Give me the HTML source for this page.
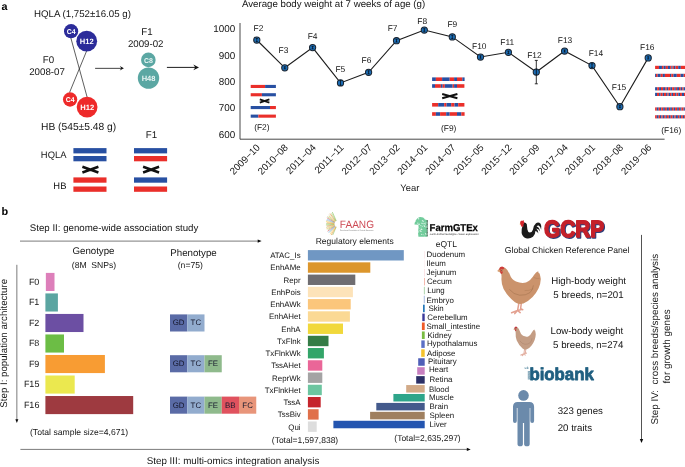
<!DOCTYPE html>
<html lang="en">
<head>
<meta charset="utf-8">
<title>Figure 1</title>
<style>
html,body{margin:0;padding:0;background:#fff;}
body{width:685px;height:467px;overflow:hidden;font-family:"Liberation Sans",sans-serif;}
svg{display:block;font-family:"Liberation Sans",sans-serif;will-change:transform;}
svg text{font-family:"Liberation Sans",sans-serif;text-rendering:geometricPrecision;}
</style>
</head>
<body>
<svg width="685" height="467" viewBox="0 0 685 467">
<rect x="0" y="0" width="685" height="467" fill="#ffffff"/>
<text x="1.6" y="9.7" font-size="10.8" text-anchor="start" fill="#000" font-weight="bold" >a</text>
<text x="34" y="17.0" font-size="9.7" text-anchor="start" fill="#151515" >HQLA (1,752±16.05 g)</text>
<path d="M70.6,37 L87.2,97.4 M86.7,50.8 L69.5,92.6" stroke="#1a1a1a" stroke-width="0.7" fill="none"/>
<circle cx="71.1" cy="31.2" r="7.1" fill="#2c2c9a"/>
<circle cx="86.7" cy="41.2" r="10.4" fill="#2c2c9a"/>
<text x="71.2" y="33.8" font-size="7.0" text-anchor="middle" fill="#fff" font-weight="bold" >C4</text>
<text x="86.8" y="44.0" font-size="7.6" text-anchor="middle" fill="#fff" font-weight="bold" >H12</text>
<circle cx="70.1" cy="99.5" r="7.15" fill="#ee2a2a"/>
<circle cx="87.1" cy="107.1" r="10.4" fill="#ee2a2a"/>
<text x="70.2" y="102.1" font-size="7.0" text-anchor="middle" fill="#fff" font-weight="bold" >C4</text>
<text x="87.2" y="109.9" font-size="7.6" text-anchor="middle" fill="#fff" font-weight="bold" >H12</text>
<text x="48.5" y="63.0" font-size="9.7" text-anchor="middle" fill="#151515" >F0</text>
<text x="47" y="75.2" font-size="9.7" text-anchor="middle" fill="#151515" >2008-07</text>
<path d="M95.1,68.35 L122,68.35" stroke="#222" stroke-width="0.85" fill="none"/>
<path d="M119.8,66.1 L123.9,68.35 L119.8,70.6 L121.3,68.35 Z" fill="#111"/>
<path d="M166.9,67.4 L196,67.4" stroke="#111" stroke-width="0.95" fill="none"/>
<path d="M193.3,64.4 L199,67.4 L193.3,70.3 L195.3,67.4 Z" fill="#111"/>
<text x="147" y="34.8" font-size="9.7" text-anchor="middle" fill="#151515" >F1</text>
<text x="145.7" y="46.9" font-size="9.7" text-anchor="middle" fill="#151515" >2009-02</text>
<circle cx="148.35" cy="59.9" r="7.3" fill="#5ba7a3"/>
<circle cx="148.5" cy="78.1" r="10.7" fill="#5ba7a3"/>
<text x="148.4" y="62.5" font-size="7.0" text-anchor="middle" fill="#e8f4f3" font-weight="bold" >C8</text>
<text x="148.6" y="80.8" font-size="7.5" text-anchor="middle" fill="#e8f4f3" font-weight="bold" >H48</text>
<text x="41" y="129.7" font-size="10.25" text-anchor="start" fill="#151515" >HB (545±5.48 g)</text>
<text x="151.4" y="138.3" font-size="9.7" text-anchor="middle" fill="#151515" >F1</text>
<text x="66.4" y="158.3" font-size="9.4" text-anchor="end" fill="#151515" >HQLA</text>
<text x="66.4" y="189.4" font-size="9.4" text-anchor="end" fill="#151515" >HB</text>
<rect x="73.40" y="148.10" width="33.10" height="5.30" fill="#2850a2" />
<rect x="73.40" y="156.00" width="33.10" height="5.30" fill="#2850a2" />
<rect x="73.40" y="177.40" width="33.10" height="5.30" fill="#ea2f2a" />
<rect x="73.40" y="186.50" width="33.10" height="5.30" fill="#ea2f2a" />
<rect x="134.00" y="148.10" width="33.10" height="5.30" fill="#2850a2" />
<rect x="134.00" y="156.00" width="33.10" height="5.30" fill="#ea2f2a" />
<rect x="134.00" y="177.40" width="33.10" height="5.30" fill="#2850a2" />
<rect x="134.00" y="186.50" width="33.10" height="5.30" fill="#ea2f2a" />
<path d="M82.40,166.75 L98.40,172.45 M82.40,172.45 L98.40,166.75" stroke="#111" stroke-width="2.5" fill="none" stroke-linecap="butt"/>
<path d="M143.10,166.75 L159.10,172.45 M143.10,172.45 L159.10,166.75" stroke="#111" stroke-width="2.5" fill="none" stroke-linecap="butt"/>
<text x="242.0" y="6.9" font-size="9.68" text-anchor="start" fill="#151515" >Average body weight at 7 weeks of age (g)</text>
<path d="M240,23 L240,139.2 L664.6,139.2" stroke="#333" stroke-width="0.9" fill="none"/>
<text x="235.2" y="32.3" font-size="9.9" text-anchor="end" fill="#151515" >1000</text>
<text x="235.2" y="58.5" font-size="9.9" text-anchor="end" fill="#151515" >900</text>
<text x="235.2" y="84.8" font-size="9.9" text-anchor="end" fill="#151515" >800</text>
<text x="235.2" y="111.1" font-size="9.9" text-anchor="end" fill="#151515" >700</text>
<text x="235.2" y="137.5" font-size="9.9" text-anchor="end" fill="#151515" >600</text>
<polyline points="256.8,40.0 284.8,67.8 312.6,47.6 340.5,82.9 368.6,72.3 396.5,40.7 424.3,30.0 452.3,36.9 480.5,57.0 508.4,52.3 536.3,72.0 564.6,51.0 592.0,65.6 619.9,106.7 648.2,57.9" fill="none" stroke="#1c1c1c" stroke-width="1.1"/>
<path d="M536.3,60.4 L536.3,83.8 M534.8,60.4 L537.8,60.4 M534.8,83.8 L537.8,83.8" stroke="#0c0c0c" stroke-width="0.85" fill="none"/>
<circle cx="256.8" cy="40.0" r="3.1" fill="#1c6db5" stroke="#1a2430" stroke-width="1.05"/>
<path d="M256.8,38.5 L256.8,41.5 M255.8,38.5 L257.8,38.5 M255.8,41.5 L257.8,41.5" stroke="#05090f" stroke-width="0.7" fill="none"/>
<text x="258.5" y="31.3" font-size="8.4" text-anchor="middle" fill="#151515" >F2</text>
<circle cx="284.8" cy="67.8" r="3.1" fill="#1c6db5" stroke="#1a2430" stroke-width="1.05"/>
<path d="M284.8,66.8 L284.8,68.8 M283.8,66.8 L285.8,66.8 M283.8,68.8 L285.8,68.8" stroke="#05090f" stroke-width="0.7" fill="none"/>
<text x="283.5" y="53.3" font-size="8.4" text-anchor="middle" fill="#151515" >F3</text>
<circle cx="312.6" cy="47.6" r="3.1" fill="#1c6db5" stroke="#1a2430" stroke-width="1.05"/>
<path d="M312.6,46.4 L312.6,48.800000000000004 M311.6,46.4 L313.6,46.4 M311.6,48.800000000000004 L313.6,48.800000000000004" stroke="#05090f" stroke-width="0.7" fill="none"/>
<text x="312.6" y="38.5" font-size="8.4" text-anchor="middle" fill="#151515" >F4</text>
<circle cx="340.5" cy="82.9" r="3.1" fill="#1c6db5" stroke="#1a2430" stroke-width="1.05"/>
<path d="M340.5,80.60000000000001 L340.5,85.2 M339.5,80.60000000000001 L341.5,80.60000000000001 M339.5,85.2 L341.5,85.2" stroke="#05090f" stroke-width="0.7" fill="none"/>
<text x="340.4" y="72.3" font-size="8.4" text-anchor="middle" fill="#151515" >F5</text>
<circle cx="368.6" cy="72.3" r="3.1" fill="#1c6db5" stroke="#1a2430" stroke-width="1.05"/>
<path d="M368.6,70.8 L368.6,73.8 M367.6,70.8 L369.6,70.8 M367.6,73.8 L369.6,73.8" stroke="#05090f" stroke-width="0.7" fill="none"/>
<text x="366.5" y="62.5" font-size="8.4" text-anchor="middle" fill="#151515" >F6</text>
<circle cx="396.5" cy="40.7" r="3.1" fill="#1c6db5" stroke="#1a2430" stroke-width="1.05"/>
<path d="M396.5,39.400000000000006 L396.5,42.0 M395.5,39.400000000000006 L397.5,39.400000000000006 M395.5,42.0 L397.5,42.0" stroke="#05090f" stroke-width="0.7" fill="none"/>
<text x="392.6" y="31.3" font-size="8.4" text-anchor="middle" fill="#151515" >F7</text>
<circle cx="424.3" cy="30.0" r="3.1" fill="#1c6db5" stroke="#1a2430" stroke-width="1.05"/>
<path d="M424.3,28.7 L424.3,31.3 M423.3,28.7 L425.3,28.7 M423.3,31.3 L425.3,31.3" stroke="#05090f" stroke-width="0.7" fill="none"/>
<text x="422.2" y="23.5" font-size="8.4" text-anchor="middle" fill="#151515" >F8</text>
<circle cx="452.3" cy="36.9" r="3.1" fill="#1c6db5" stroke="#1a2430" stroke-width="1.05"/>
<path d="M452.3,35.3 L452.3,38.5 M451.3,35.3 L453.3,35.3 M451.3,38.5 L453.3,38.5" stroke="#05090f" stroke-width="0.7" fill="none"/>
<text x="452.3" y="27.0" font-size="8.4" text-anchor="middle" fill="#151515" >F9</text>
<circle cx="480.5" cy="57.0" r="3.1" fill="#1c6db5" stroke="#1a2430" stroke-width="1.05"/>
<path d="M480.5,55.8 L480.5,58.2 M479.5,55.8 L481.5,55.8 M479.5,58.2 L481.5,58.2" stroke="#05090f" stroke-width="0.7" fill="none"/>
<text x="479.3" y="48.9" font-size="8.4" text-anchor="middle" fill="#151515" >F10</text>
<circle cx="508.4" cy="52.3" r="3.1" fill="#1c6db5" stroke="#1a2430" stroke-width="1.05"/>
<path d="M508.4,51.099999999999994 L508.4,53.5 M507.4,51.099999999999994 L509.4,51.099999999999994 M507.4,53.5 L509.4,53.5" stroke="#05090f" stroke-width="0.7" fill="none"/>
<text x="507.2" y="44.6" font-size="8.4" text-anchor="middle" fill="#151515" >F11</text>
<circle cx="536.3" cy="72.0" r="3.1" fill="#1c6db5" stroke="#1a2430" stroke-width="1.05"/>
<path d="M536.3,68.6 L536.3,75.4" stroke="#05090f" stroke-width="0.8" fill="none"/>
<text x="534.4" y="57.5" font-size="8.4" text-anchor="middle" fill="#151515" >F12</text>
<circle cx="564.6" cy="51.0" r="3.1" fill="#1c6db5" stroke="#1a2430" stroke-width="1.05"/>
<path d="M564.6,50.0 L564.6,52.0 M563.6,50.0 L565.6,50.0 M563.6,52.0 L565.6,52.0" stroke="#05090f" stroke-width="0.7" fill="none"/>
<text x="565.0" y="43.3" font-size="8.4" text-anchor="middle" fill="#151515" >F13</text>
<circle cx="592.0" cy="65.6" r="3.1" fill="#1c6db5" stroke="#1a2430" stroke-width="1.05"/>
<path d="M592.0,63.8 L592.0,67.39999999999999 M591.0,63.8 L593.0,63.8 M591.0,67.39999999999999 L593.0,67.39999999999999" stroke="#05090f" stroke-width="0.7" fill="none"/>
<text x="595.9" y="56.2" font-size="8.4" text-anchor="middle" fill="#151515" >F14</text>
<circle cx="619.9" cy="106.7" r="3.1" fill="#1c6db5" stroke="#1a2430" stroke-width="1.05"/>
<path d="M619.9,105.7 L619.9,107.7 M618.9,105.7 L620.9,105.7 M618.9,107.7 L620.9,107.7" stroke="#05090f" stroke-width="0.7" fill="none"/>
<text x="619.0" y="89.6" font-size="8.4" text-anchor="middle" fill="#151515" >F15</text>
<circle cx="648.2" cy="57.9" r="3.1" fill="#1c6db5" stroke="#1a2430" stroke-width="1.05"/>
<path d="M648.2,56.8 L648.2,59.0 M647.2,56.8 L649.2,56.8 M647.2,59.0 L649.2,59.0" stroke="#05090f" stroke-width="0.7" fill="none"/>
<text x="647.3" y="49.7" font-size="8.4" text-anchor="middle" fill="#151515" >F16</text>
<text font-size="9.75" text-anchor="end" fill="#151515" transform="translate(260.7,148.1) rotate(-45)">2009−10</text>
<text font-size="9.75" text-anchor="end" fill="#151515" transform="translate(288.7,148.1) rotate(-45)">2010−08</text>
<text font-size="9.75" text-anchor="end" fill="#151515" transform="translate(316.5,148.1) rotate(-45)">2011−04</text>
<text font-size="9.75" text-anchor="end" fill="#151515" transform="translate(344.4,148.1) rotate(-45)">2011−11</text>
<text font-size="9.75" text-anchor="end" fill="#151515" transform="translate(372.5,148.1) rotate(-45)">2012−07</text>
<text font-size="9.75" text-anchor="end" fill="#151515" transform="translate(400.4,148.1) rotate(-45)">2013−02</text>
<text font-size="9.75" text-anchor="end" fill="#151515" transform="translate(428.2,148.1) rotate(-45)">2014−01</text>
<text font-size="9.75" text-anchor="end" fill="#151515" transform="translate(456.2,148.1) rotate(-45)">2014−07</text>
<text font-size="9.75" text-anchor="end" fill="#151515" transform="translate(484.4,148.1) rotate(-45)">2015−05</text>
<text font-size="9.75" text-anchor="end" fill="#151515" transform="translate(512.3,148.1) rotate(-45)">2015−12</text>
<text font-size="9.75" text-anchor="end" fill="#151515" transform="translate(540.2,148.1) rotate(-45)">2016−09</text>
<text font-size="9.75" text-anchor="end" fill="#151515" transform="translate(568.5,148.1) rotate(-45)">2017−04</text>
<text font-size="9.75" text-anchor="end" fill="#151515" transform="translate(595.9,148.1) rotate(-45)">2018−01</text>
<text font-size="9.75" text-anchor="end" fill="#151515" transform="translate(623.8,148.1) rotate(-45)">2018−08</text>
<text font-size="9.75" text-anchor="end" fill="#151515" transform="translate(652.1,148.1) rotate(-45)">2019−06</text>
<text x="409.8" y="190.9" font-size="9.4" text-anchor="middle" fill="#151515" >Year</text>
<rect x="250.70" y="84.90" width="14.40" height="3.10" fill="#ea2f2a" />
<rect x="265.10" y="84.90" width="10.80" height="3.10" fill="#2850a2" />
<rect x="250.70" y="93.20" width="11.20" height="3.10" fill="#ea2f2a" />
<rect x="261.90" y="93.20" width="14.00" height="3.10" fill="#2850a2" />
<rect x="250.70" y="106.00" width="19.30" height="3.10" fill="#2850a2" />
<rect x="270.00" y="106.00" width="5.90" height="3.10" fill="#ea2f2a" />
<rect x="250.70" y="114.60" width="7.70" height="3.10" fill="#2850a2" />
<rect x="258.40" y="114.60" width="17.50" height="3.10" fill="#ea2f2a" />
<path d="M259.80,99.35 L269.40,102.65 M259.80,102.65 L269.40,99.35" stroke="#111" stroke-width="1.8" fill="none" stroke-linecap="butt"/>
<text x="261.9" y="130.3" font-size="8.4" text-anchor="middle" fill="#151515" >(F2)</text>
<rect x="432.10" y="77.40" width="3.80" height="3.60" fill="#2850a2" />
<rect x="435.90" y="77.40" width="6.20" height="3.60" fill="#ea2f2a" />
<rect x="442.10" y="77.40" width="7.60" height="3.60" fill="#2850a2" />
<rect x="449.70" y="77.40" width="4.40" height="3.60" fill="#ea2f2a" />
<rect x="454.10" y="77.40" width="2.90" height="3.60" fill="#2850a2" />
<rect x="457.00" y="77.40" width="5.30" height="3.60" fill="#ea2f2a" />
<rect x="462.30" y="77.40" width="2.30" height="3.60" fill="#2850a2" />
<rect x="432.10" y="84.20" width="2.90" height="3.60" fill="#2850a2" />
<rect x="435.00" y="84.20" width="5.90" height="3.60" fill="#ea2f2a" />
<rect x="440.90" y="84.20" width="1.80" height="3.60" fill="#2850a2" />
<rect x="442.70" y="84.20" width="2.10" height="3.60" fill="#ea2f2a" />
<rect x="444.80" y="84.20" width="7.90" height="3.60" fill="#2850a2" />
<rect x="452.70" y="84.20" width="1.40" height="3.60" fill="#ea2f2a" />
<rect x="454.10" y="84.20" width="2.90" height="3.60" fill="#2850a2" />
<rect x="457.00" y="84.20" width="7.40" height="3.60" fill="#ea2f2a" />
<rect x="432.10" y="103.00" width="6.10" height="3.60" fill="#ea2f2a" />
<rect x="438.20" y="103.00" width="6.00" height="3.60" fill="#2850a2" />
<rect x="444.20" y="103.00" width="2.30" height="3.60" fill="#ea2f2a" />
<rect x="446.50" y="103.00" width="4.70" height="3.60" fill="#2850a2" />
<rect x="451.20" y="103.00" width="3.30" height="3.60" fill="#ea2f2a" />
<rect x="454.50" y="103.00" width="3.70" height="3.60" fill="#2850a2" />
<rect x="458.20" y="103.00" width="6.20" height="3.60" fill="#ea2f2a" />
<rect x="432.10" y="112.20" width="3.80" height="3.60" fill="#ea2f2a" />
<rect x="435.90" y="112.20" width="4.20" height="3.60" fill="#2850a2" />
<rect x="440.10" y="112.20" width="6.10" height="3.60" fill="#ea2f2a" />
<rect x="446.20" y="112.20" width="3.50" height="3.60" fill="#2850a2" />
<rect x="449.70" y="112.20" width="7.30" height="3.60" fill="#ea2f2a" />
<rect x="457.00" y="112.20" width="4.30" height="3.60" fill="#2850a2" />
<rect x="461.30" y="112.20" width="3.30" height="3.60" fill="#ea2f2a" />
<path d="M442.20,93.95 L457.40,98.25 M442.20,98.25 L457.40,93.95" stroke="#111" stroke-width="1.95" fill="none" stroke-linecap="butt"/>
<text x="448.7" y="130.9" font-size="8.4" text-anchor="middle" fill="#151515" >(F9)</text>
<rect x="655.10" y="65.80" width="3.85" height="3.20" fill="#ea2f2a" />
<rect x="658.95" y="65.80" width="3.00" height="3.20" fill="#2850a2" />
<rect x="661.95" y="65.80" width="1.70" height="3.20" fill="#ea2f2a" />
<rect x="663.65" y="65.80" width="2.15" height="3.20" fill="#2850a2" />
<rect x="665.80" y="65.80" width="2.10" height="3.20" fill="#ea2f2a" />
<rect x="667.90" y="65.80" width="2.20" height="3.20" fill="#2850a2" />
<rect x="670.10" y="65.80" width="1.25" height="3.20" fill="#ea2f2a" />
<rect x="671.35" y="65.80" width="1.25" height="3.20" fill="#2850a2" />
<rect x="672.60" y="65.80" width="1.30" height="3.20" fill="#ea2f2a" />
<rect x="673.90" y="65.80" width="1.70" height="3.20" fill="#2850a2" />
<rect x="675.60" y="65.80" width="2.60" height="3.20" fill="#ea2f2a" />
<rect x="678.20" y="65.80" width="2.60" height="3.20" fill="#2850a2" />
<rect x="680.80" y="65.80" width="4.20" height="3.20" fill="#ea2f2a" />
<rect x="655.10" y="73.80" width="0.90" height="3.20" fill="#2850a2" />
<rect x="656.00" y="73.80" width="1.70" height="3.20" fill="#ea2f2a" />
<rect x="657.70" y="73.80" width="3.00" height="3.20" fill="#2850a2" />
<rect x="660.70" y="73.80" width="2.10" height="3.20" fill="#ea2f2a" />
<rect x="662.80" y="73.80" width="2.10" height="3.20" fill="#2850a2" />
<rect x="664.90" y="73.80" width="5.10" height="3.20" fill="#ea2f2a" />
<rect x="670.00" y="73.80" width="1.30" height="3.20" fill="#2850a2" />
<rect x="671.30" y="73.80" width="2.10" height="3.20" fill="#ea2f2a" />
<rect x="673.40" y="73.80" width="3.40" height="3.20" fill="#2850a2" />
<rect x="676.80" y="73.80" width="3.90" height="3.20" fill="#ea2f2a" />
<rect x="680.70" y="73.80" width="3.00" height="3.20" fill="#2850a2" />
<rect x="683.70" y="73.80" width="1.30" height="3.20" fill="#ea2f2a" />
<rect x="655.10" y="87.20" width="2.10" height="3.20" fill="#2850a2" />
<rect x="657.20" y="87.20" width="1.90" height="3.20" fill="#ea2f2a" />
<rect x="659.10" y="87.20" width="1.90" height="3.20" fill="#2850a2" />
<rect x="661.00" y="87.20" width="2.10" height="3.20" fill="#ea2f2a" />
<rect x="663.10" y="87.20" width="2.10" height="3.20" fill="#2850a2" />
<rect x="665.20" y="87.20" width="1.50" height="3.20" fill="#ea2f2a" />
<rect x="666.70" y="87.20" width="1.50" height="3.20" fill="#2850a2" />
<rect x="668.20" y="87.20" width="2.10" height="3.20" fill="#ea2f2a" />
<rect x="670.30" y="87.20" width="1.90" height="3.20" fill="#2850a2" />
<rect x="672.20" y="87.20" width="2.10" height="3.20" fill="#ea2f2a" />
<rect x="674.30" y="87.20" width="1.50" height="3.20" fill="#2850a2" />
<rect x="675.80" y="87.20" width="1.30" height="3.20" fill="#ea2f2a" />
<rect x="677.10" y="87.20" width="1.90" height="3.20" fill="#2850a2" />
<rect x="679.00" y="87.20" width="1.70" height="3.20" fill="#ea2f2a" />
<rect x="680.70" y="87.20" width="1.50" height="3.20" fill="#2850a2" />
<rect x="682.20" y="87.20" width="1.30" height="3.20" fill="#ea2f2a" />
<rect x="683.50" y="87.20" width="1.50" height="3.20" fill="#2850a2" />
<rect x="655.10" y="92.80" width="1.90" height="3.20" fill="#2850a2" />
<rect x="657.00" y="92.80" width="2.10" height="3.20" fill="#ea2f2a" />
<rect x="659.10" y="92.80" width="1.50" height="3.20" fill="#2850a2" />
<rect x="660.60" y="92.80" width="2.10" height="3.20" fill="#ea2f2a" />
<rect x="662.70" y="92.80" width="1.30" height="3.20" fill="#2850a2" />
<rect x="664.00" y="92.80" width="2.10" height="3.20" fill="#ea2f2a" />
<rect x="666.10" y="92.80" width="1.30" height="3.20" fill="#2850a2" />
<rect x="667.40" y="92.80" width="1.30" height="3.20" fill="#ea2f2a" />
<rect x="668.70" y="92.80" width="1.30" height="3.20" fill="#2850a2" />
<rect x="670.00" y="92.80" width="1.50" height="3.20" fill="#ea2f2a" />
<rect x="671.50" y="92.80" width="1.50" height="3.20" fill="#2850a2" />
<rect x="673.00" y="92.80" width="2.10" height="3.20" fill="#ea2f2a" />
<rect x="675.10" y="92.80" width="1.30" height="3.20" fill="#2850a2" />
<rect x="676.40" y="92.80" width="1.90" height="3.20" fill="#ea2f2a" />
<rect x="678.30" y="92.80" width="1.70" height="3.20" fill="#2850a2" />
<rect x="680.00" y="92.80" width="1.90" height="3.20" fill="#ea2f2a" />
<rect x="681.90" y="92.80" width="2.10" height="3.20" fill="#2850a2" />
<rect x="684.00" y="92.80" width="1.00" height="3.20" fill="#ea2f2a" />
<rect x="655.10" y="107.40" width="1.70" height="3.20" fill="#ea2f2a" />
<rect x="656.80" y="107.40" width="1.90" height="3.20" fill="#2850a2" />
<rect x="658.70" y="107.40" width="1.30" height="3.20" fill="#ea2f2a" />
<rect x="660.00" y="107.40" width="1.30" height="3.20" fill="#2850a2" />
<rect x="661.30" y="107.40" width="1.90" height="3.20" fill="#ea2f2a" />
<rect x="663.20" y="107.40" width="1.70" height="3.20" fill="#2850a2" />
<rect x="664.90" y="107.40" width="1.90" height="3.20" fill="#ea2f2a" />
<rect x="666.80" y="107.40" width="2.10" height="3.20" fill="#2850a2" />
<rect x="668.90" y="107.40" width="1.30" height="3.20" fill="#ea2f2a" />
<rect x="670.20" y="107.40" width="1.70" height="3.20" fill="#2850a2" />
<rect x="671.90" y="107.40" width="1.70" height="3.20" fill="#ea2f2a" />
<rect x="673.60" y="107.40" width="1.50" height="3.20" fill="#2850a2" />
<rect x="675.10" y="107.40" width="2.10" height="3.20" fill="#ea2f2a" />
<rect x="677.20" y="107.40" width="1.70" height="3.20" fill="#2850a2" />
<rect x="678.90" y="107.40" width="1.30" height="3.20" fill="#ea2f2a" />
<rect x="680.20" y="107.40" width="1.30" height="3.20" fill="#2850a2" />
<rect x="681.50" y="107.40" width="2.10" height="3.20" fill="#ea2f2a" />
<rect x="683.60" y="107.40" width="1.30" height="3.20" fill="#2850a2" />
<rect x="684.90" y="107.40" width="0.10" height="3.20" fill="#ea2f2a" />
<rect x="655.10" y="115.20" width="1.70" height="3.20" fill="#ea2f2a" />
<rect x="656.80" y="115.20" width="1.90" height="3.20" fill="#2850a2" />
<rect x="658.70" y="115.20" width="1.30" height="3.20" fill="#ea2f2a" />
<rect x="660.00" y="115.20" width="1.30" height="3.20" fill="#2850a2" />
<rect x="661.30" y="115.20" width="1.30" height="3.20" fill="#ea2f2a" />
<rect x="662.60" y="115.20" width="1.50" height="3.20" fill="#2850a2" />
<rect x="664.10" y="115.20" width="1.50" height="3.20" fill="#ea2f2a" />
<rect x="665.60" y="115.20" width="1.30" height="3.20" fill="#2850a2" />
<rect x="666.90" y="115.20" width="1.90" height="3.20" fill="#ea2f2a" />
<rect x="668.80" y="115.20" width="1.90" height="3.20" fill="#2850a2" />
<rect x="670.70" y="115.20" width="1.90" height="3.20" fill="#ea2f2a" />
<rect x="672.60" y="115.20" width="1.90" height="3.20" fill="#2850a2" />
<rect x="674.50" y="115.20" width="1.30" height="3.20" fill="#ea2f2a" />
<rect x="675.80" y="115.20" width="2.10" height="3.20" fill="#2850a2" />
<rect x="677.90" y="115.20" width="1.50" height="3.20" fill="#ea2f2a" />
<rect x="679.40" y="115.20" width="1.70" height="3.20" fill="#2850a2" />
<rect x="681.10" y="115.20" width="1.70" height="3.20" fill="#ea2f2a" />
<rect x="682.80" y="115.20" width="1.30" height="3.20" fill="#2850a2" />
<rect x="684.10" y="115.20" width="0.90" height="3.20" fill="#ea2f2a" />
<text x="671.3" y="132.9" font-size="8.4" text-anchor="middle" fill="#151515" >(F16)</text>
<text x="1.4" y="215.4" font-size="10.9" text-anchor="start" fill="#000" font-weight="bold" >b</text>
<text x="29.8" y="230.8" font-size="9.7" text-anchor="start" fill="#151515" >Step II: genome-wide association study</text>
<path d="M20,241.1 L259,241.1" stroke="#222" stroke-width="0.6"/>
<path d="M261.6,241.1 L257.7,239.5 L257.7,242.7 Z" fill="#0a0a0a"/>
<path d="M16.85,264.8 L16.85,420" stroke="#222" stroke-width="0.6"/>
<path d="M16.85,423.0 L15.35,419.3 L18.35,419.3 Z" fill="#0a0a0a"/>
<text font-size="9.7" text-anchor="middle" fill="#151515" transform="translate(7.4,343.3) rotate(-90)">Step I: population architecture</text>
<text x="93.5" y="254.3" font-size="9.7" text-anchor="middle" fill="#151515" >Genotype</text>
<text x="94" y="267.8" font-size="8.6" text-anchor="middle" fill="#151515" xml:space="preserve">(8M  SNPs)</text>
<text x="193.5" y="256.3" font-size="9.7" text-anchor="middle" fill="#151515" >Phenotype</text>
<text x="190.3" y="267.8" font-size="8.6" text-anchor="middle" fill="#151515" >(n=75)</text>
<rect x="45.85" y="272.90" width="8.65" height="18.10" fill="#dd7fba" />
<text x="39.4" y="284.65" font-size="9.0" text-anchor="end" fill="#151515" >F0</text>
<rect x="45.40" y="293.42" width="12.50" height="18.10" fill="#5ba5a1" />
<text x="39.4" y="305.16999999999996" font-size="9.0" text-anchor="end" fill="#151515" >F1</text>
<rect x="45.40" y="313.94" width="38.10" height="18.10" fill="#6c4fa3" />
<text x="39.4" y="325.69" font-size="9.0" text-anchor="end" fill="#151515" >F2</text>
<rect x="45.40" y="334.46" width="18.60" height="18.10" fill="#6cbd45" />
<text x="39.4" y="346.21" font-size="9.0" text-anchor="end" fill="#151515" >F8</text>
<rect x="45.40" y="354.98" width="59.50" height="18.10" fill="#f89c33" />
<text x="39.4" y="366.72999999999996" font-size="9.0" text-anchor="end" fill="#151515" >F9</text>
<rect x="45.40" y="375.50" width="29.30" height="18.10" fill="#ebe84f" />
<text x="39.4" y="387.25" font-size="9.0" text-anchor="end" fill="#151515" >F15</text>
<rect x="45.40" y="396.02" width="87.80" height="18.10" fill="#9e3a40" />
<text x="39.4" y="407.77" font-size="9.0" text-anchor="end" fill="#151515" >F16</text>
<text x="30" y="434.8" font-size="8.6" text-anchor="start" fill="#151515" >(Total sample size=4,671)</text>
<rect x="170.00" y="314.40" width="17.25" height="17.10" fill="#5a6ba6" />
<text x="178.6" y="325.29999999999995" font-size="7.9" text-anchor="middle" fill="#16182c" >GD</text>
<rect x="187.25" y="314.40" width="17.25" height="17.10" fill="#92acce" />
<text x="195.85" y="325.29999999999995" font-size="7.9" text-anchor="middle" fill="#16182c" >TC</text>
<rect x="170.00" y="355.20" width="17.25" height="17.10" fill="#5a6ba6" />
<text x="178.6" y="366.09999999999997" font-size="7.9" text-anchor="middle" fill="#16182c" >GD</text>
<rect x="187.25" y="355.20" width="17.25" height="17.10" fill="#92acce" />
<text x="195.85" y="366.09999999999997" font-size="7.9" text-anchor="middle" fill="#16182c" >TC</text>
<rect x="204.50" y="355.20" width="17.25" height="17.10" fill="#8fba8c" />
<text x="213.1" y="366.09999999999997" font-size="7.9" text-anchor="middle" fill="#16182c" >FE</text>
<rect x="170.00" y="396.60" width="17.25" height="17.10" fill="#5a6ba6" />
<text x="178.6" y="407.5" font-size="7.9" text-anchor="middle" fill="#16182c" >GD</text>
<rect x="187.25" y="396.60" width="17.25" height="17.10" fill="#92acce" />
<text x="195.85" y="407.5" font-size="7.9" text-anchor="middle" fill="#16182c" >TC</text>
<rect x="204.50" y="396.60" width="17.25" height="17.10" fill="#8fba8c" />
<text x="213.1" y="407.5" font-size="7.9" text-anchor="middle" fill="#16182c" >FE</text>
<rect x="221.75" y="396.60" width="17.25" height="17.10" fill="#e0525e" />
<text x="230.35" y="407.5" font-size="7.9" text-anchor="middle" fill="#16182c" >BB</text>
<rect x="239.00" y="396.60" width="17.25" height="17.10" fill="#e8957a" />
<text x="247.6" y="407.5" font-size="7.9" text-anchor="middle" fill="#16182c" >FC</text>
<text x="354.7" y="244.4" font-size="8.5" text-anchor="middle" fill="#151515" >Regulatory elements</text>
<rect x="307.90" y="250.10" width="95.90" height="10.40" fill="#7097c3" />
<text x="300.6" y="258.2" font-size="7.9" text-anchor="end" fill="#151515" >ATAC_Is</text>
<rect x="307.90" y="262.34" width="62.40" height="10.40" fill="#dc962c" />
<text x="300.6" y="270.43999999999994" font-size="7.9" text-anchor="end" fill="#151515" >EnhAMe</text>
<rect x="307.90" y="274.58" width="47.40" height="10.40" fill="#6f6d71" />
<text x="300.6" y="282.67999999999995" font-size="7.9" text-anchor="end" fill="#151515" >Repr</text>
<rect x="307.90" y="286.82" width="45.00" height="10.40" fill="#fde3b9" />
<text x="300.6" y="294.91999999999996" font-size="7.9" text-anchor="end" fill="#151515" >EnhPois</text>
<rect x="307.90" y="299.06" width="42.80" height="10.40" fill="#fbc67b" />
<text x="300.6" y="307.15999999999997" font-size="7.9" text-anchor="end" fill="#151515" >EnhAWk</text>
<rect x="307.90" y="311.30" width="42.00" height="10.40" fill="#fbd994" />
<text x="300.6" y="319.4" font-size="7.9" text-anchor="end" fill="#151515" >EnhAHet</text>
<rect x="307.90" y="323.54" width="35.10" height="10.40" fill="#f1d83b" />
<text x="300.6" y="331.63999999999993" font-size="7.9" text-anchor="end" fill="#151515" >EnhA</text>
<rect x="307.90" y="335.78" width="20.60" height="10.40" fill="#357c46" />
<text x="300.6" y="343.87999999999994" font-size="7.9" text-anchor="end" fill="#151515" >TxFlnk</text>
<rect x="307.90" y="348.02" width="16.00" height="10.40" fill="#33a569" />
<text x="300.6" y="356.11999999999995" font-size="7.9" text-anchor="end" fill="#151515" >TxFlnkWk</text>
<rect x="307.90" y="360.26" width="14.40" height="10.40" fill="#ea6698" />
<text x="300.6" y="368.35999999999996" font-size="7.9" text-anchor="end" fill="#151515" >TssAHet</text>
<rect x="307.90" y="372.50" width="14.40" height="10.40" fill="#a4a3a4" />
<text x="300.6" y="380.59999999999997" font-size="7.9" text-anchor="end" fill="#151515" >ReprWk</text>
<rect x="307.90" y="384.74" width="13.90" height="10.40" fill="#6cc5a0" />
<text x="300.6" y="392.84" font-size="7.9" text-anchor="end" fill="#151515" >TxFlnkHet</text>
<rect x="307.90" y="396.98" width="12.80" height="10.40" fill="#c5242c" />
<text x="300.6" y="405.08" font-size="7.9" text-anchor="end" fill="#151515" >TssA</text>
<rect x="307.90" y="409.22" width="10.70" height="10.40" fill="#e0704a" />
<text x="300.6" y="417.32" font-size="7.9" text-anchor="end" fill="#151515" >TssBiv</text>
<rect x="307.90" y="421.46" width="8.80" height="10.40" fill="#dddddd" />
<text x="300.6" y="429.56" font-size="7.9" text-anchor="end" fill="#151515" >Qui</text>
<text x="305" y="442.8" font-size="8.5" text-anchor="middle" fill="#151515" >(Total=1,597,838)</text>
<text x="446.3" y="247.2" font-size="8.5" text-anchor="middle" fill="#151515" >eQTL</text>
<rect x="424.35" y="251.10" width="0.35" height="7.50" fill="#f6c9cf" />
<text x="426.6" y="257.3" font-size="7.9" text-anchor="start" fill="#151515" >Duodenum</text>
<rect x="424.40" y="260.03" width="0.30" height="7.50" fill="#f9d7d9" />
<text x="426.6" y="266.3" font-size="7.9" text-anchor="start" fill="#151515" >Ileum</text>
<rect x="424.30" y="268.96" width="0.40" height="7.50" fill="#f4b9bd" />
<text x="426.6" y="275.3" font-size="7.9" text-anchor="start" fill="#151515" >Jejunum</text>
<rect x="424.00" y="277.89" width="0.70" height="7.50" fill="#ef9d8c" />
<text x="426.9" y="284.3" font-size="7.9" text-anchor="start" fill="#151515" >Cecum</text>
<rect x="423.90" y="286.82" width="0.80" height="7.50" fill="#9ccb9a" />
<text x="427.2" y="293.3" font-size="7.9" text-anchor="start" fill="#151515" >Lung</text>
<rect x="423.80" y="295.75" width="0.90" height="7.50" fill="#9fb3dc" />
<text x="426.6" y="303.3" font-size="7.9" text-anchor="start" fill="#151515" >Embryo</text>
<rect x="423.00" y="304.68" width="1.70" height="7.50" fill="#2377b9" />
<text x="428.4" y="310.7" font-size="7.9" text-anchor="start" fill="#151515" >Skin</text>
<rect x="422.30" y="313.61" width="2.40" height="7.50" fill="#3b3a9a" />
<text x="427.3" y="319.5" font-size="7.9" text-anchor="start" fill="#151515" >Cerebellum</text>
<rect x="421.90" y="322.54" width="2.80" height="7.50" fill="#f05a28" />
<text x="426.6" y="328.7" font-size="7.9" text-anchor="start" fill="#151515" >Small_intestine</text>
<rect x="421.90" y="331.47" width="2.80" height="7.50" fill="#7abd42" />
<text x="427.6" y="337.7" font-size="7.9" text-anchor="start" fill="#151515" >Kidney</text>
<rect x="421.30" y="340.40" width="3.40" height="7.50" fill="#5b6fc5" />
<text x="426.9" y="346.4" font-size="7.9" text-anchor="start" fill="#151515" >Hypothalamus</text>
<rect x="421.20" y="349.33" width="3.50" height="7.50" fill="#f5c32e" />
<text x="426.9" y="355.6" font-size="7.9" text-anchor="start" fill="#151515" >Adipose</text>
<rect x="418.20" y="358.26" width="6.50" height="7.50" fill="#4f5fb8" />
<text x="428.1" y="364.3" font-size="7.9" text-anchor="start" fill="#151515" >Pituitary</text>
<rect x="417.20" y="367.19" width="7.50" height="7.50" fill="#c77fc0" />
<text x="428.9" y="372.1" font-size="7.9" text-anchor="start" fill="#151515" >Heart</text>
<rect x="416.20" y="376.12" width="8.50" height="7.50" fill="#2b2f66" />
<text x="429.6" y="382.1" font-size="7.9" text-anchor="start" fill="#151515" >Retina</text>
<rect x="406.20" y="385.05" width="18.50" height="7.50" fill="#d2aa88" />
<text x="428.9" y="392.4" font-size="7.9" text-anchor="start" fill="#151515" >Blood</text>
<rect x="393.40" y="393.98" width="31.30" height="7.50" fill="#2ea58a" />
<text x="428.9" y="399.9" font-size="7.9" text-anchor="start" fill="#151515" >Muscle</text>
<rect x="376.30" y="402.91" width="48.40" height="7.50" fill="#445a8c" />
<text x="429.6" y="408.7" font-size="7.9" text-anchor="start" fill="#151515" >Brain</text>
<rect x="370.10" y="411.84" width="54.60" height="7.50" fill="#9f7f5f" />
<text x="429.6" y="417.7" font-size="7.9" text-anchor="start" fill="#151515" >Spleen</text>
<rect x="333.40" y="420.77" width="91.30" height="7.50" fill="#2455b0" />
<text x="429.6" y="426.7" font-size="7.9" text-anchor="start" fill="#151515" >Liver</text>
<text x="427.5" y="440.9" font-size="8.5" text-anchor="middle" fill="#151515" >(Total=2,635,297)</text>
<path d="M20.4,449.4 L468,449.4" stroke="#222" stroke-width="0.6"/>
<path d="M470.7,449.4 L466.8,447.8 L466.8,451.0 Z" fill="#0a0a0a"/>
<text x="233" y="464.3" font-size="9.8" text-anchor="middle" fill="#151515" >Step III: multi-omics integration analysis</text>
<path d="M641.5,234.9 L641.5,440" stroke="#1a1a1a" stroke-width="0.75"/>
<path d="M641.5,442.9 L639.8,439.0 L643.2,439.0 Z" fill="#0a0a0a"/>
<text font-size="9.83" text-anchor="start" fill="#151515" xml:space="preserve" transform="translate(658.0,424.5) rotate(-90)">Step IV:  cross breeds/species analysis</text>
<text font-size="9.95" text-anchor="start" fill="#151515" transform="translate(670.4,383.4) rotate(-90)">for growth genes</text>
<text x="567.2" y="253.0" font-size="8.6" text-anchor="middle" fill="#151515" >Global Chicken Reference Panel</text>
<text x="588.6" y="284.4" font-size="9.7" text-anchor="middle" fill="#151515" >High-body weight</text>
<text x="588.5" y="298.1" font-size="9.7" text-anchor="middle" fill="#151515" >5 breeds, n=201</text>
<text x="586.9" y="334.4" font-size="9.7" text-anchor="middle" fill="#151515" >Low-body weight</text>
<text x="588.2" y="348.4" font-size="9.7" text-anchor="middle" fill="#151515" >5 breeds, n=274</text>
<text x="557.7" y="413.8" font-size="9.7" text-anchor="start" fill="#151515" >323 genes</text>
<text x="557.7" y="430.9" font-size="9.7" text-anchor="start" fill="#151515" >20 traits</text>
<path d="M336.26,226.91 L332.65,235.02" stroke="#7ab648" stroke-width="0.62" opacity="0.9"/>
<path d="M335.95,226.76 L331.15,235.07" stroke="#f28c28" stroke-width="0.62" opacity="0.9"/>
<path d="M335.66,226.57 L330.07,234.27" stroke="#f2d24a" stroke-width="0.62" opacity="0.9"/>
<path d="M335.39,226.35 L329.63,232.75" stroke="#a9a9a9" stroke-width="0.62" opacity="0.9"/>
<path d="M335.15,226.11 L328.23,232.33" stroke="#5bb5e0" stroke-width="0.62" opacity="0.9"/>
<path d="M334.93,225.84 L327.50,231.24" stroke="#d9534f" stroke-width="0.62" opacity="0.9"/>
<path d="M334.74,225.55 L327.60,229.68" stroke="#8fc45a" stroke-width="0.62" opacity="0.9"/>
<path d="M334.59,225.24 L326.45,228.87" stroke="#f5b041" stroke-width="0.62" opacity="0.9"/>
<path d="M334.46,224.92 L326.13,227.63" stroke="#c7c98a" stroke-width="0.62" opacity="0.9"/>
<path d="M334.37,224.59 L326.73,226.21" stroke="#e67e22" stroke-width="0.62" opacity="0.9"/>
<path d="M334.32,224.24 L325.91,225.13" stroke="#9ccc65" stroke-width="0.62" opacity="0.9"/>
<path d="M334.30,223.90 L326.00,223.90" stroke="#7ab648" stroke-width="0.62" opacity="0.9"/>
<path d="M334.32,223.56 L326.70,222.75" stroke="#f28c28" stroke-width="0.62" opacity="0.9"/>
<path d="M334.37,223.21 L325.95,221.42" stroke="#f2d24a" stroke-width="0.62" opacity="0.9"/>
<path d="M334.46,222.88 L326.13,220.17" stroke="#a9a9a9" stroke-width="0.62" opacity="0.9"/>
<path d="M334.59,222.56 L327.18,219.26" stroke="#5bb5e0" stroke-width="0.62" opacity="0.9"/>
<path d="M334.74,222.25 L326.90,217.72" stroke="#d9534f" stroke-width="0.62" opacity="0.9"/>
<path d="M334.93,221.96 L327.50,216.56" stroke="#8fc45a" stroke-width="0.62" opacity="0.9"/>
<path d="M335.15,221.69 L328.83,216.00" stroke="#f5b041" stroke-width="0.62" opacity="0.9"/>
<path d="M335.39,221.45 L329.09,214.45" stroke="#c7c98a" stroke-width="0.62" opacity="0.9"/>
<path d="M335.66,221.23 L330.07,213.53" stroke="#e67e22" stroke-width="0.62" opacity="0.9"/>
<path d="M335.95,221.04 L331.55,213.42" stroke="#9ccc65" stroke-width="0.62" opacity="0.9"/>
<path d="M336.26,220.89 L332.32,212.05" stroke="#7ab648" stroke-width="0.62" opacity="0.9"/>
<text x="339.8" y="227.9" font-size="10.6" fill="#c42a36" textLength="34.2" lengthAdjust="spacingAndGlyphs" opacity="0.85">FAANG</text>
<text x="340" y="231.3" font-size="2.1" fill="#777" textLength="33.5" lengthAdjust="spacingAndGlyphs">Functional Annotation of Animal Genomes</text>
<path d="M418.8,217.2 Q423,216.4 425.2,219.4 L427.6,220.2 L427.4,236.7 L418.4,236.7 Q417.4,232 418.6,227.6 L418.4,224.8 L414.4,224.5 Q414.8,220.2 418.8,217.2 Z" fill="#4fbf83" opacity="0.8"/>
<circle cx="417.87" cy="227.72" r="0.46" fill="#ffffff" opacity="0.75"/>
<circle cx="421.96" cy="229.24" r="0.37" fill="#ffffff" opacity="0.75"/>
<circle cx="415.35" cy="233.18" r="0.43" fill="#ffffff" opacity="0.75"/>
<circle cx="417.82" cy="236.12" r="0.49" fill="#ffffff" opacity="0.75"/>
<circle cx="424.57" cy="226.46" r="0.54" fill="#ffffff" opacity="0.75"/>
<circle cx="416.89" cy="229.41" r="0.61" fill="#ffffff" opacity="0.75"/>
<circle cx="421.06" cy="231.39" r="0.55" fill="#ffffff" opacity="0.75"/>
<circle cx="415.92" cy="231.70" r="0.53" fill="#ffffff" opacity="0.75"/>
<circle cx="418.57" cy="218.18" r="0.61" fill="#ffffff" opacity="0.75"/>
<circle cx="420.49" cy="230.97" r="0.61" fill="#ffffff" opacity="0.75"/>
<circle cx="423.20" cy="234.73" r="0.47" fill="#ffffff" opacity="0.75"/>
<circle cx="424.17" cy="225.87" r="0.63" fill="#ffffff" opacity="0.75"/>
<circle cx="425.04" cy="219.41" r="0.39" fill="#ffffff" opacity="0.75"/>
<circle cx="417.63" cy="235.56" r="0.48" fill="#ffffff" opacity="0.75"/>
<circle cx="422.22" cy="223.20" r="0.50" fill="#ffffff" opacity="0.75"/>
<circle cx="419.52" cy="224.13" r="0.53" fill="#ffffff" opacity="0.75"/>
<circle cx="421.74" cy="234.42" r="0.55" fill="#ffffff" opacity="0.75"/>
<circle cx="425.60" cy="233.53" r="0.65" fill="#ffffff" opacity="0.75"/>
<circle cx="422.72" cy="220.63" r="0.61" fill="#ffffff" opacity="0.75"/>
<circle cx="426.00" cy="234.43" r="0.52" fill="#ffffff" opacity="0.75"/>
<circle cx="423.19" cy="221.53" r="0.60" fill="#ffffff" opacity="0.75"/>
<circle cx="421.62" cy="222.90" r="0.37" fill="#ffffff" opacity="0.75"/>
<circle cx="424.76" cy="236.01" r="0.38" fill="#ffffff" opacity="0.75"/>
<circle cx="424.17" cy="225.23" r="0.40" fill="#ffffff" opacity="0.75"/>
<circle cx="418.49" cy="231.90" r="0.61" fill="#ffffff" opacity="0.75"/>
<circle cx="415.69" cy="229.03" r="0.36" fill="#ffffff" opacity="0.75"/>
<circle cx="423.25" cy="223.76" r="0.61" fill="#ffffff" opacity="0.75"/>
<circle cx="426.18" cy="227.00" r="0.65" fill="#ffffff" opacity="0.75"/>
<circle cx="418.67" cy="219.03" r="0.53" fill="#ffffff" opacity="0.75"/>
<circle cx="415.55" cy="221.27" r="0.47" fill="#ffffff" opacity="0.75"/>
<circle cx="422.04" cy="220.51" r="0.36" fill="#ffffff" opacity="0.75"/>
<circle cx="424.92" cy="223.44" r="0.64" fill="#ffffff" opacity="0.75"/>
<circle cx="425.24" cy="224.63" r="0.49" fill="#ffffff" opacity="0.75"/>
<circle cx="421.02" cy="229.58" r="0.53" fill="#ffffff" opacity="0.75"/>
<circle cx="421.46" cy="229.13" r="0.63" fill="#ffffff" opacity="0.75"/>
<circle cx="420.88" cy="225.62" r="0.57" fill="#ffffff" opacity="0.75"/>
<circle cx="417.86" cy="223.20" r="0.64" fill="#ffffff" opacity="0.75"/>
<circle cx="421.04" cy="227.80" r="0.35" fill="#ffffff" opacity="0.75"/>
<circle cx="419.85" cy="228.39" r="0.36" fill="#ffffff" opacity="0.75"/>
<circle cx="422.10" cy="229.36" r="0.37" fill="#ffffff" opacity="0.75"/>
<circle cx="422.23" cy="226.27" r="0.55" fill="#ffffff" opacity="0.75"/>
<circle cx="419.15" cy="230.75" r="0.57" fill="#ffffff" opacity="0.75"/>
<circle cx="415.45" cy="218.73" r="0.55" fill="#ffffff" opacity="0.75"/>
<circle cx="425.99" cy="222.27" r="0.49" fill="#ffffff" opacity="0.75"/>
<circle cx="421.84" cy="223.55" r="0.46" fill="#ffffff" opacity="0.75"/>
<circle cx="418.70" cy="224.47" r="0.53" fill="#ffffff" opacity="0.75"/>
<path d="M427.3,220.0 L427.3,236.6" stroke="#3a3a3a" stroke-width="1.3" stroke-dasharray="0.8 0.55" opacity="0.8"/>
<text x="429.6" y="230.6" font-size="10" font-weight="bold" fill="#050505" stroke="#050505" stroke-width="0.25" textLength="48.3" lengthAdjust="spacingAndGlyphs">FarmGTEx</text>
<text x="429.8" y="234.6" font-size="2.7" font-style="italic" fill="#222" textLength="48.8" lengthAdjust="spacingAndGlyphs">Farm Animal Genotype-Tissue Expression</text>
<path d="M524.2,222.6 Q526.2,222.6 526.8,224.2 L527.4,229.4 Q528,232.4 529.8,232.6 Q532.2,232.4 533,229.6 Q533.6,225 536,223.2 Q538.6,221.8 540.6,223.8 Q541.8,226 541.2,229.8 Q540.4,226.6 538.6,225.6 Q537.4,225.4 536.6,226.6 Q539.4,227 540,231.6 Q538.6,228.8 536.2,228.6 Q538.2,230 538.4,233.6 Q537.2,231.2 535.4,231 Q535.4,234.6 533,236.8 Q530,239 526,238.2 Q522.4,237 521.6,233 Q521.2,229 522.4,226.4 Q522.8,224 524.2,222.6 Z" fill="#1b1b1b"/>
<path d="M520.0,223.6 Q520.0,221.6 521.2,220.6 Q521.9,221.4 522.4,220.8 Q523.0,220.0 523.7,220.2 Q523.6,221.4 524.4,222.4 Q523.2,224 523.4,226.4 Q522.4,227.2 521.4,226.6 Q521.0,225.4 520.6,225.0 Z" fill="#d4242c"/>
<path d="M519.4,224.0 L520.6,223.4 L520.6,224.8 Z" fill="#e8b44a"/>
<g font-size="23.5" font-weight="bold" stroke-linejoin="round">
<text x="545.2" y="238.0" fill="#2c3f7a" stroke="#2c3f7a" stroke-width="1.5" textLength="60.0" lengthAdjust="spacingAndGlyphs">GCRP</text>
<text x="544.0" y="236.9" fill="#c4202a" stroke="#c4202a" stroke-width="1.45" textLength="60.0" lengthAdjust="spacingAndGlyphs">GCRP</text>
</g>
<g transform="">
<path d="M518.9,303 L517.6,310.4 M521.3,303.4 L520.6,308.6 M511.6,312.7 L517.5,310.5 L520.2,312.6 M517.5,310.5 L514.8,313.6 M520.6,308.7 L522.8,309.7 M517.6,310.4 L521.6,309.4" stroke="#e3a08f" stroke-width="1.5" fill="none" stroke-linecap="round" stroke-linejoin="round"/>
<path d="M497.3,270.9 L499.4,268.6 Q502,266.3 505,267.8 Q508.2,270 509.7,274.2 Q511.3,279.2 516,281.6 Q521,283.6 526,282.6 Q530.8,280.4 534,275 Q536,272 538.2,271.2 L538.6,273 L539.6,273.4 Q540.4,276 540.8,279 Q540.6,284 538.6,288.2 Q536.4,293 532.6,297 Q528.6,301.2 523.4,303.4 Q518.6,304.8 515,302.2 Q508,297 503.6,289 Q501,283 501.5,277.4 Q501.7,274.2 500.6,272.8 Z" fill="#cb936c"/>
<path d="M509.4,289.4 Q513.6,294.6 519.6,295.2 Q526,295.6 530,292.6 Q533,289.6 533.4,285.4" stroke="#9a6a46" stroke-width="0.9" fill="none" opacity="0.5"/>
<path d="M524.6,290.6 Q529.4,291 533.2,288.6 M533.6,277.4 Q536.4,279 539.6,278.4" stroke="#9a6a46" stroke-width="0.7" fill="none" opacity="0.4"/>
<path d="M499.3,268.9 Q499.7,266.7 501.3,266.8 Q502.3,266.2 503.2,267 Q504.4,267.2 504.3,268.5 Q502.9,268.9 502.7,270.4 Q503.2,273.4 501.5,274.1 Q500.1,273.6 500.3,271.8 Q499.4,270.6 499.3,268.9 Z" fill="#cf3b38"/>
<path d="M500.6,269.2 Q502,268.5 502.9,269.4 L502.7,271.4 Q501.6,271.8 500.7,271.2 Z" fill="#cb936c" opacity="0.85"/>
<circle cx="501.7" cy="270.2" r="0.45" fill="#3a2418"/>
<path d="M497.3,270.9 L499.6,270 L499.9,271.7 Z" fill="#e2b07e"/>
</g>
<g transform="translate(513.4,329.2) scale(0.512,0.62) translate(-497.1,-270.9)">
<path d="M518.9,303 L517.6,310.4 M521.3,303.4 L520.6,308.6 M511.6,312.7 L517.5,310.5 L520.2,312.6 M517.5,310.5 L514.8,313.6 M520.6,308.7 L522.8,309.7 M517.6,310.4 L521.6,309.4" stroke="#e3b0a2" stroke-width="1.9" fill="none" stroke-linecap="round" stroke-linejoin="round"/>
<path d="M497.3,270.9 L499.4,268.6 Q502,266.3 505,267.8 Q508.2,270 509.7,274.2 Q511.3,279.2 516,281.6 Q521,283.6 526,282.6 Q530.8,280.4 534,275 Q536,272 538.2,271.2 L538.6,273 L539.6,273.4 Q540.4,276 540.8,279 Q540.6,284 538.6,288.2 Q536.4,293 532.6,297 Q528.6,301.2 523.4,303.4 Q518.6,304.8 515,302.2 Q508,297 503.6,289 Q501,283 501.5,277.4 Q501.7,274.2 500.6,272.8 Z" fill="#c49d84"/>
<path d="M509.4,289.4 Q513.6,294.6 519.6,295.2 Q526,295.6 530,292.6 Q533,289.6 533.4,285.4" stroke="#9a7358" stroke-width="1.3" fill="none" opacity="0.4"/>
<path d="M499.3,268.9 Q499.7,266.7 501.3,266.8 Q502.3,266.2 503.2,267 Q504.4,267.2 504.3,268.5 Q502.9,268.9 502.7,270.4 Q503.2,273.4 501.5,274.1 Q500.1,273.6 500.3,271.8 Q499.4,270.6 499.3,268.9 Z" fill="#c2373f"/>
<path d="M500.6,269.2 Q502,268.5 502.9,269.4 L502.7,271.4 Q501.6,271.8 500.7,271.2 Z" fill="#c49d84" opacity="0.85"/>
<circle cx="501.7" cy="270.2" r="0.45" fill="#3a2418"/>
<path d="M497.3,270.9 L499.6,270 L499.9,271.7 Z" fill="#e2b07e"/>
</g>
<text x="529.4" y="379.5" font-size="17.4" font-weight="bold" fill="#1f5f80" stroke="#1f5f80" stroke-width="0.8" stroke-linejoin="round" textLength="64.4" lengthAdjust="spacingAndGlyphs">biobank</text>
<text x="524.6" y="368.9" font-size="3.4" font-weight="bold" fill="#2b6a88" opacity="0.8">uk</text>
<path d="M527.8,371 h2.4 v8.5 h-2.4 Z" fill="#1f5f80" opacity="0.55"/>
<path d="M528.4,371.6 v7.4 M529.4,372 v6.6" stroke="#ffffff" stroke-width="0.35" stroke-dasharray="0.9 0.7" opacity="0.7"/>
<circle cx="523.5" cy="395.4" r="5.3" fill="#6b8aab"/>
<path d="M517.6,402 L529.4,402 Q534.1,402 534.1,406.7 L534.1,421 Q534.1,422.9 532.2,422.9 Q530.3,422.9 530.3,421 L530.3,408 L529.7,408 L529.7,444 Q529.7,446.3 527,446.3 Q524.1,446.3 524.1,444 L524.1,423 L522.9,423 L522.9,444 Q522.9,446.3 520.2,446.3 Q517.5,446.3 517.5,444 L517.5,408 L516.8,408 L516.8,421 Q516.8,422.9 514.9,422.9 Q513,422.9 513,421 L513,406.7 Q513,402 517.6,402 Z" fill="#6b8aab"/>
</svg>
</body>
</html>
